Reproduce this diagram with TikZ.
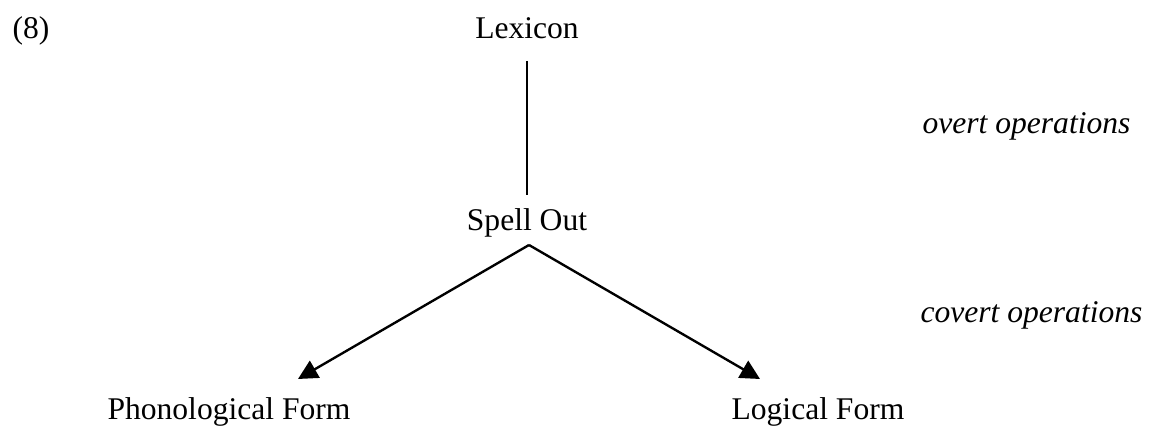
\documentclass[tikz,border=0pt]{standalone}
\usepackage{fontspec}
\setmainfont{Liberation Serif}
\usetikzlibrary{arrows.meta}
\begin{document}
\begin{tikzpicture}[x=0.38pt,y=-0.38pt,
  lbl/.style={inner sep=0pt, font=\fontsize{12}{14}\selectfont},
  op/.style={inner sep=0pt, font=\fontsize{12}{14}\selectfont\itshape, anchor=base west},
  link/.style={line width=0.9pt},
  arr/.style={link, -{Triangle[length=7.4pt,width=7.4pt]}}]
\useasboundingbox (0,0) rectangle (1151,428);
% labels
\node[lbl, anchor=base west] (num) at (12,39) {(8)};
\node[lbl, anchor=base] (lex) at (527,39) {Lexicon};
\node[lbl, anchor=base] (spell) at (527,231) {Spell Out};
\node[lbl, anchor=base] (pf) at (229,420) {Phonological Form};
\node[lbl, anchor=base] (lf) at (818,420) {Logical Form};
\node[op] (overt) at (922,134) {overt operations};
\node[op] (covert) at (920,323) {covert operations};
% branching point and arrow ends
\coordinate (fork) at (529,245);
\coordinate (pftip) at (298,379);
\coordinate (lftip) at (760,379);
% connectors
\draw[link, shorten <=8pt, shorten >=5.3pt] (lex.south) -- (spell.north);
\draw[arr] (fork) -- (pftip);
\draw[arr] (fork) -- (lftip);
\end{tikzpicture}
\end{document}
